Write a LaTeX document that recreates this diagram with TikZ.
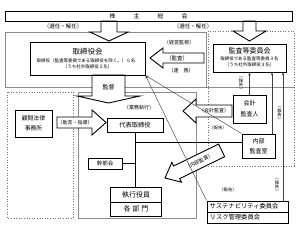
\documentclass[tikz,border=0pt]{standalone}
\usepackage{fontspec}
\setmainfont{Noto Sans CJK JP}
\usetikzlibrary{arrows.meta}
\newcommand\myfs[2]{\fontsize{#1}{#2}\selectfont}
\begin{document}
\begin{tikzpicture}[x=1pt,y=-1pt,
  bx/.style={draw=black, line width=1pt, inner sep=0pt, align=center, text=black},
  grayframe/.style={draw=black!45, line width=0.5pt},
  dotframe/.style={draw=black!55, line width=0.6pt, dotted},
  barrow/.style={draw=black, line width=0.9pt, fill=white, line join=miter},
  lbl/.style={inner sep=0pt, font=\myfs{5}{6}},
  vlbl/.style={inner sep=0pt, align=center, font=\myfs{4.3}{4.6}},
  rep/.style={draw=black!75, line width=0.45pt},
  trunk/.style={draw=black, line width=1pt},
  tip/.style={-{Stealth[length=3pt,width=2.4pt]}},
]
\useasboundingbox (0,0) rectangle (300,225);
% frames
\draw[grayframe] (5,32) rectangle (206,87);
\draw[grayframe] (206,87) -- (294,87);
\draw[dotframe] (208,31) rectangle (294,166);
\draw[dotframe] (7,92) rectangle (73,218);
\draw[grayframe] (78,92) rectangle (196,218);
% block arrows
\draw[barrow] (101,21) -- (117,21) -- (117,32) -- (128,32) -- (109,41) -- (90,32) -- (101,32) -- cycle;
\draw[barrow] (243,21) -- (256,21) -- (256,31) -- (266,31) -- (249.5,41) -- (233,31) -- (243,31) -- cycle;
\draw[barrow] (204,53) -- (163,53) -- (163,48) -- (150,58) -- (163,68) -- (163,63) -- (204,63) -- cycle;
\draw[barrow] (92,75) -- (125,75) -- (125,96) -- (140,96) -- (108.5,103) -- (77,96) -- (92,96) -- cycle;
\draw[barrow] (57,117) -- (92,117) -- (92,110) -- (106,122.5) -- (92,135) -- (92,128) -- (57,128) -- cycle;
\draw[barrow] (232,105) -- (196,105) -- (196,99) -- (183,111) -- (196,123) -- (196,117) -- (232,117) -- cycle;
\begin{scope}[shift={(165,178)},rotate=26]
\draw[barrow] (0,0) -- (13,-11) -- (13,-7) -- (63,-7) -- (63,7) -- (13,7) -- (13,11) -- cycle;
\node[lbl,rotate=26] (lnaibu) at (38,0) {〔内部監査〕};
\end{scope}
% boxes
\node[bx, line width=0.8pt, minimum width=287pt, minimum height=10pt, font=\myfs{6}{7}] (soukai) at (148.5,16) {株\hspace{18pt}主\hspace{18pt}総\hspace{18pt}会};
\node[bx, minimum width=115pt, minimum height=33pt] (tori) at (87.5,58.5) {};
\node[inner sep=0pt, font=\myfs{7.5}{8}] (toriT) at (87.5,52) {取締役会};
\node[inner sep=0pt, font=\myfs{4.5}{5}] (toriS1) at (86,61) {取締役（監査等委員である取締役を除く。）６名};
\node[inner sep=0pt, font=\myfs{4.5}{5}] (toriS2) at (87.5,67) {（うち社外取締役２名）};
\node[bx, minimum width=73pt, minimum height=28pt] (kansa) at (249.5,58) {};
\node[inner sep=0pt, font=\myfs{7}{8}] (kansaT) at (249.5,51) {監査等委員会};
\node[inner sep=0pt, font=\myfs{4.5}{5}] (kansaS1) at (249.5,58.5) {取締役である監査等委員３名};
\node[inner sep=0pt, font=\myfs{4.5}{5}] (kansaS2) at (249.5,64.5) {（うち社外取締役３名）};
\node[bx, line width=0.8pt, minimum width=37pt, minimum height=27pt, font=\myfs{5.8}{10}] (komon) at (33.5,123.5) {顧問法律\\事務所};
\node[bx, minimum width=56pt, minimum height=14pt, font=\myfs{6.3}{7}] (daihyo) at (135,125) {代表取締役};
\node[bx, minimum width=33pt, minimum height=28pt, font=\myfs{6}{11}] (kaikei) at (249.5,109) {会計\\監査人};
\node[bx, minimum width=33pt, minimum height=24pt, font=\myfs{6}{10}] (naibu) at (258.5,146) {内部\\監査室};
\node[bx, line width=0.8pt, minimum width=34pt, minimum height=11pt, font=\myfs{5.5}{6}] (kanbu) at (105,163.5) {幹部会};
\node[bx, minimum width=51pt, minimum height=15pt, font=\myfs{7}{8}] (shikko1) at (136,194.5) {執行役員};
\node[bx, minimum width=51pt, minimum height=14pt, font=\myfs{7}{8}] (shikko2) at (136,209) {各\hspace{2pt}部\hspace{2pt}門};
\node[bx, minimum width=81pt, minimum height=11pt] (sus) at (247.5,206.5) {};
\node[bx, minimum width=81pt, minimum height=11pt] (risk) at (247.5,217.5) {};
\node[inner sep=0pt, anchor=west, font=\myfs{6.3}{7}] (susT) at (209.5,206.5) {サステナビリティ委員会};
\node[inner sep=0pt, anchor=west, font=\myfs{6.3}{7}] (riskT) at (209.5,217.5) {リスク管理委員会};
% labels
\node[lbl, font=\myfs{5.5}{6}] (senL) at (63,26) {（選任・解任）};
\node[lbl, font=\myfs{5.5}{6}] (senR) at (193,26.5) {（選任・解任）};
\node[lbl] (keiei) at (179,43) {〔経営監視〕};
\node[lbl, font=\myfs{5.5}{6}] (kansaL) at (177,58) {（監査）};
\node[lbl] (renkei) at (181,70.5) {〔連\hspace{5pt}携〕};
\node[lbl, font=\myfs{6}{7}] (kantoku) at (108.5,87) {監督};
\node[lbl] (jogen) at (75,122.5) {（助言・指導）};
\node[lbl] (gyomu) at (139,108) {〔業務執行〕};
\node[lbl] (kaikeiL) at (214,111) {（会計監査）};
\node[lbl, font=\myfs{4.3}{5}] (hok1) at (218,128) {（報告）};
\node[lbl, font=\myfs{4.3}{5}] (hok2) at (228,190) {（報告）};
\node[vlbl] (hok3) at (241,84) {︵\\報\\告\\︶};
\node[vlbl] (hok4) at (279.5,114) {︵\\報\\告\\︶};
\node[vlbl] (hok5) at (277,186) {︵\\報\\告\\︶};
% execution lines
\draw[trunk] (daihyo.south) -- (daihyo.south |- shikko1.north);
\draw[trunk] (kanbu.east) -- (kanbu.east -| daihyo.south);
\coordinate (tj) at (135,142);
\draw[trunk] (tj) -- (tj -| naibu.west);
% report lines
\draw[rep, tip] (naibu.north west) -- (tori.south east);
\draw[rep, tip] (sus.north west) -- (tori.south east);
\draw[rep, tip] (kaikei.north) -- (kaikei.north |- kansa.south);
\coordinate (n2) at (272,134);
\draw[rep, tip] (n2) -- (n2 |- kansa.south);
\coordinate (n3) at (283,201);
\draw[rep, tip] (n3) -- (n3 |- kansa.south);
\end{tikzpicture}
\end{document}
